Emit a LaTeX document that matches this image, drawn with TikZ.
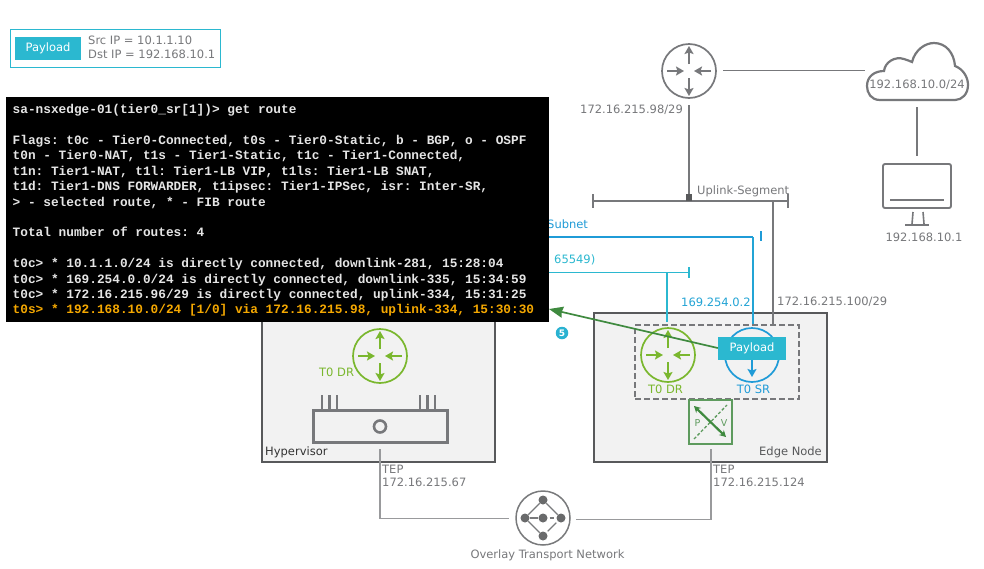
\documentclass[tikz,border=0pt]{standalone}
\usepackage{fontspec}
\setmainfont{DejaVu Sans}
\setmonofont{Liberation Mono}
\usetikzlibrary{arrows.meta}
\definecolor{cgray}{HTML}{77787B}
\definecolor{cdark}{HTML}{58595B}
\definecolor{cgreen}{HTML}{7AB72E}
\definecolor{cblue}{HTML}{1F9BD7}
\definecolor{ccyan}{HTML}{2BB8D0}
\definecolor{cfill}{HTML}{F2F2F2}
\definecolor{corange}{HTML}{F5A800}
\definecolor{cpv}{HTML}{5E9B5E}
\definecolor{cpvd}{HTML}{3F8A3F}
\tikzset{
  lbl/.style={inner sep=0pt,yshift=-1pt,font=\fontsize{11.5}{13.5}\selectfont,text=cgray},
  lblw/.style={lbl,anchor=mid west},
  lblc/.style={lbl,anchor=mid},
  routerc/.style={draw=#1,circle,line width=1.7pt,minimum size=54pt,inner sep=0pt},
  rarrow/.style={draw=#1,line width=2.3pt,-{Stealth[length=8pt,width=9pt,inset=1.5pt]}},
  hostbox/.style={draw=cdark,fill=cfill,line width=1.6pt,inner sep=0pt},
  gline/.style={draw=cgray,line width=2pt},
  thin gline/.style={draw=cgray!75,line width=1.3pt},
  payload/.style={fill=ccyan,inner sep=0pt,text=white,font=\fontsize{11.5}{13.5}\selectfont},
}
\newcommand{\routericon}[4]{% name, x, y, colour
  \node[routerc=#4] (#1) at (#2,#3) {};
  \draw[rarrow=#4] ([yshift=-7pt]#1.center) -- ([yshift=-25pt]#1.center);
  \draw[rarrow=#4] ([yshift=7pt]#1.center) -- ([yshift=25pt]#1.center);
  \draw[rarrow=#4] ([xshift=-22pt]#1.center) -- ([xshift=-5pt]#1.center);
  \draw[rarrow=#4] ([xshift=22pt]#1.center) -- ([xshift=5pt]#1.center);
}
\begin{document}
\begin{tikzpicture}[x=1pt,y=-1pt]
\useasboundingbox[fill=white] (0,0) rectangle (984,568);

% legend
\node[draw=ccyan,line width=0.9pt,minimum width=210pt,minimum height=38pt,inner sep=0pt] (legend) at (115,48) {};
\node[payload,minimum width=66pt,minimum height=23pt] (legendpay) at (48,48.5) {Payload};
\node[lblw] (src) at (88,41) {Src IP = 10.1.1.10};
\node[lblw] (dst) at (88,54.5) {Dst IP = 192.168.10.1};

% hypervisor and edge boxes
\node[hostbox,minimum width=233pt,minimum height=142pt] (hv) at (378.5,391) {};
\node[hostbox,minimum width=233pt,minimum height=149pt] (edge) at (710.5,387.5) {};
\node[lblw,text=black!80] (hvl) at (265,451.5) {Hypervisor};
\node[lblw,text=cdark,anchor=mid east] (edl) at (822,451.5) {Edge Node};

% top router, cloud, monitor
\routericon{rtop}{689}{71}{cgray}
\node[lblw] (rtopip) at (580,109.5) {172.16.215.98/29};
\draw[draw=cgray,line width=2.2pt,fill=white] (880,100)
  .. controls (871,100) and (867,93) .. (867,86)
  .. controls (867,76) and (875,71) .. (884,71)
  .. controls (885,62) and (895,56) .. (904,59)
  .. controls (907,60) and (910,61) .. (912,62)
  .. controls (915,50) and (925,43) .. (934,43)
  .. controls (946,43) and (954,53) .. (955,66)
  .. controls (963,69) and (968,77) .. (968,85)
  .. controls (968,94) and (962,100) .. (955,100) -- cycle;
\node[lblc,text=cgray] (cloud) at (917,84.5) {192.168.10.0/24};
\draw[draw=cgray,line width=1.9pt,rounded corners=2pt] (883,164) rectangle (951,208);
\coordinate (cloudb) at (917,107);
\coordinate (monb) at (917,156);
\draw[gline] (cloudb) -- (monb);
\coordinate (rtopr) at (723,70.5);
\coordinate (cloudl) at (865,70.5);
\draw[gline,line width=1.7pt] (rtopr) -- (cloudl);
\draw[draw=cgray,line width=1.6pt] (890,200) -- (944,200);
\draw[draw=cgray,line width=1.6pt] (913,212) -- (912,224) (923,212) -- (924,224);
\draw[draw=cgray,line width=2pt] (905,225) -- (929,225);
\node[lblc] (monip) at (924,238) {192.168.10.1};

% uplink segment
\coordinate (segl) at (593,201);
\coordinate (segr) at (788,201);
\coordinate (segj) at (689,197);
\coordinate (segd) at (773,201);
\coordinate (rtopb) at (689,105);
\draw[gline] (segl) -- (segr);
\draw[gline] (593,194) -- (593,208) (788,194) -- (788,208);
\draw[gline] (rtopb) -- (segj);
\fill[cdark] (686,194) rectangle (692,201);
\node[lblw] (segt) at (697,191) {Uplink-Segment};
\coordinate (dashgray) at (773,325);
\draw[gline] (segd) -- (dashgray);
\node[lblw] (ip100) at (777,302) {172.16.215.100/29};

% blue and cyan segments
\coordinate (subl) at (549,237);
\coordinate (subr) at (753,237);
\coordinate (srtop) at (753,325);
\draw[draw=cblue,line width=1.9pt] (subl) -- (subr);
\draw[draw=cblue!70!ccyan,line width=2pt] (subr) -- (srtop);
\draw[draw=cblue,line width=2pt] (761,231) -- (761,241);
\node[lblw,text=cblue] (subt) at (547,224.5) {Subnet};
\coordinate (transl) at (549,272.5);
\coordinate (transr) at (688,272.5);
\coordinate (transj) at (667,272.5);
\coordinate (drtop) at (667,322);
\draw[draw=ccyan,line width=1.9pt] (transl) -- (transr);
\draw[draw=ccyan,line width=2pt] (transj) -- (drtop);
\draw[draw=ccyan,line width=2pt] (688.5,267) -- (688.5,278);
\node[lblw,text=ccyan] (tt) at (554,260) {65549)};
\node[lblw,text=cblue!70!ccyan] (ip2) at (681,303) {169.254.0.2};

% hypervisor internals
\routericon{hvdr}{380}{356}{cgreen}
\node[lblw,text=cgreen] (hvt) at (319,373) {T0 DR};
\draw[draw=cgray,fill=cfill,line width=3pt] (313,410) rectangle (447,442);
\draw[draw=cgray,line width=2.8pt] (322,395) -- (322,410) (329.5,395) -- (329.5,410) (337,395) -- (337,410)
  (420,395) -- (420,410) (427.5,395) -- (427.5,410) (435,395) -- (435,410);
\draw[draw=cgray,line width=2.6pt] (380,426.5) circle (6pt);

% edge internals
\node[draw=cgray,dash pattern=on 6pt off 3pt,line width=1.9pt,minimum width=164pt,minimum height=74pt,inner sep=0pt] (t0) at (717,362) {};
\routericon{eddr}{668}{355}{cgreen}
\node[lblc,text=cgreen] (edt) at (665.5,389.5) {T0 DR};
\node[routerc=cblue] (sr) at (752,355) {};
\draw[draw=cblue,line width=2.3pt,-{Stealth[length=8pt,width=9pt,inset=1.5pt]}] (752,358) -- (752,377);
\node[lblc,text=cblue] (srt) at (753.5,389.5) {T0 SR};
\node[payload,minimum width=68pt,minimum height=23pt] (pay) at (752,348) {Payload};

% P/V switch
\node[draw=cpv,fill=cfill,line width=1.7pt,minimum width=43pt,minimum height=44pt,inner sep=0pt] (pv) at (710.5,422) {};
\draw[draw=cpv,dash pattern=on 3pt off 2pt,line width=1.3pt] (694,439) -- (727,405);
\draw[draw=cpvd,line width=2.2pt,{Stealth[length=6.5pt,width=7pt]}-{Stealth[length=6.5pt,width=7pt]}] (694,406) -- (726,437);
\node[lblc,font=\fontsize{9.5}{11}\selectfont,text=cpv] (pl) at (697.5,423) {P};
\node[lblc,font=\fontsize{9.5}{11}\selectfont,text=cpv] (vl) at (724,423) {V};

% overlay network
\node[draw=cdark!80,circle,line width=1.5pt,minimum size=54pt,inner sep=0pt] (ov) at (543,518) {};
\foreach \n/\dx/\dy in {a/0/-18,b/-18/0,c/0/0,d/18/0,e/0/18}{
  \node[circle,fill=cdark!90,minimum size=9pt,inner sep=0pt] (ov\n) at (543+\dx,518+\dy) {};
}
\draw[draw=cdark!80,line width=1.2pt,shorten <=2pt,shorten >=2pt] (ova) -- (ovb) (ova) -- (ovd) (ovb) -- (ove) (ovd) -- (ove);
\draw[draw=cdark!80,line width=1.2pt,shorten <=2pt,shorten >=2pt] (ovb) -- (ovc) (ovc) -- (ovd);
\node[lblc] (ovt) at (547.5,555) {Overlay Transport Network};

% TEP links
\coordinate (hvb) at (380,449);
\coordinate (hvc) at (380,518.5);
\coordinate (ovl) at (509,518.5);
\coordinate (edb) at (711,449);
\coordinate (edc) at (711,519.5);
\coordinate (ovr) at (576,519.5);
\draw[thin gline] (hvb) -- (hvc) -- (ovl);
\draw[thin gline] (edb) -- (edc) -- (ovr);
\node[lblw] (tep1) at (382,470) {TEP};
\node[lblw] (tep1ip) at (382,483) {172.16.215.67};
\node[lblw] (tep2) at (713,470) {TEP};
\node[lblw] (tep2ip) at (713,483) {172.16.215.124};

% terminal
\node[fill=black,text=white,anchor=north west,inner sep=0pt,minimum width=543pt,minimum height=225pt] (term) at (6,97) {};
\node[anchor=north west,inner sep=0pt,text=white!90!black,align=left,
  font=\ttfamily\bfseries\fontsize{12.78}{15.4}\selectfont] (termt) at (12.5,104.2) {%
sa-nsxedge-01(tier0\_sr[1])> get route\\
\mbox{}\\
Flags: t0c - Tier0-Connected, t0s - Tier0-Static, b - BGP, o - OSPF\\
t0n - Tier0-NAT, t1s - Tier1-Static, t1c - Tier1-Connected,\\
t1n: Tier1-NAT, t1l: Tier1-LB VIP, t1ls: Tier1-LB SNAT,\\
t1d: Tier1-DNS FORWARDER, t1ipsec: Tier1-IPSec, isr: Inter-SR,\\
> - selected route, * - FIB route\\
\mbox{}\\
Total number of routes: 4\\
\mbox{}\\
t0c> * 10.1.1.0/24 is directly connected, downlink-281, 15:28:04\\
t0c> * 169.254.0.0/24 is directly connected, downlink-335, 15:34:59\\
t0c> * 172.16.215.96/29 is directly connected, uplink-334, 15:31:25\\
\textcolor{corange}{t0s> * 192.168.10.0/24 [1/0] via 172.16.215.98, uplink-334, 15:30:30}};

% packet path
\coordinate (pathend) at (549,309);
\draw[draw=cpvd,line width=1.7pt,-{Stealth[length=14pt,width=11pt,inset=1pt]}] (pay.west) -- (pathend);
\node[circle,fill=ccyan!80!cblue,text=white,minimum size=12.5pt,inner sep=0pt,font=\fontsize{9}{10}\selectfont\bfseries] (step5) at (562,333) {5};
\end{tikzpicture}
\end{document}
